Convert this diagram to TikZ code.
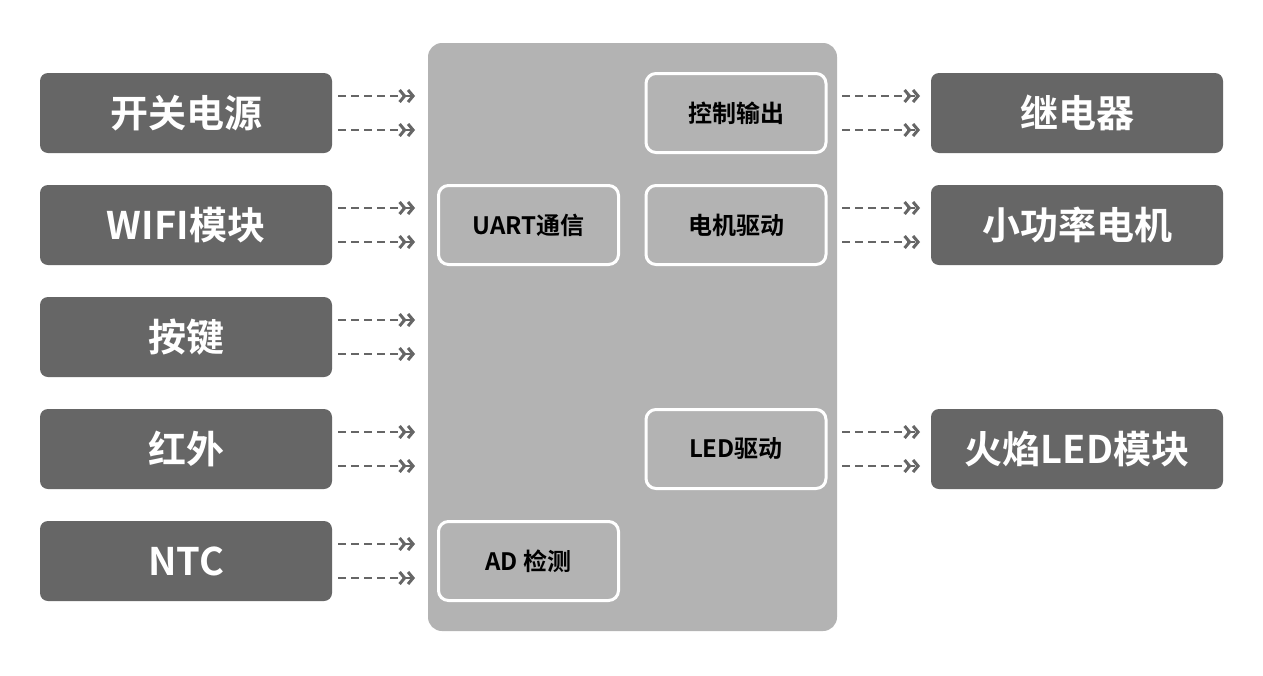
\documentclass[tikz,border=0pt]{standalone}
\usepackage{fontspec}
\newfontfamily\cjk{Noto Sans CJK SC Bold}
\usetikzlibrary{arrows.meta}
\definecolor{dark}{HTML}{666666}
\definecolor{panel}{HTML}{B3B3B3}
\begin{document}
\begin{tikzpicture}[x=1pt,y=-1pt,
 outer/.style={fill=dark,rounded corners=8pt,minimum width=292pt,minimum height=80pt,text=white,font=\cjk\fontsize{38}{40}\selectfont,inner sep=0pt},
 inner/.style={fill=panel,draw=white,line width=3pt,rounded corners=10pt,minimum width=180pt,minimum height=79pt,text=black,font=\cjk\fontsize{24}{26}\selectfont,inner sep=0pt},
 arr/.style={draw=dark,line width=2.5pt,dash pattern=on 8pt off 5pt,-{Straight Barb[length=5pt,width=12pt,line width=3pt] Straight Barb[length=5pt,width=12pt,line width=3pt]}}]
\useasboundingbox (0,0) rectangle (1263,675);
\fill[white] (0,0) rectangle (1263,675);
\fill[panel,rounded corners=14pt] (428,43) rectangle (837,631);
\foreach \n/\t/\y in {l1/开关电源/113,l2/WIFI模块/225,l3/按键/337,l4/红外/449,l5/NTC/561}{
 \node[outer] (\n) at (186,\y) {\t};
 \coordinate (\n a) at (338,\y-17); \coordinate (\n b) at (415,\y-17);
 \coordinate (\n c) at (338,\y+17); \coordinate (\n d) at (415,\y+17);
 \draw[arr] (\n a) -- (\n b); \draw[arr] (\n c) -- (\n d);
}
\foreach \n/\t/\y in {r1/继电器/113,r2/小功率电机/225,r4/火焰LED模块/449}{
 \node[outer] (\n) at (1077,\y) {\t};
 \coordinate (\n a) at (842,\y-17); \coordinate (\n b) at (920,\y-17);
 \coordinate (\n c) at (842,\y+17); \coordinate (\n d) at (920,\y+17);
 \draw[arr] (\n a) -- (\n b); \draw[arr] (\n c) -- (\n d);
}
\node[inner] (uart) at (528.5,225) {UART通信};
\node[inner] (ad) at (528.5,561) {AD 检测};
\node[inner] (ctl) at (736,113) {控制输出};
\node[inner] (mot) at (736,225) {电机驱动};
\node[inner] (led) at (736,449) {LED驱动};
\end{tikzpicture}
\end{document}
